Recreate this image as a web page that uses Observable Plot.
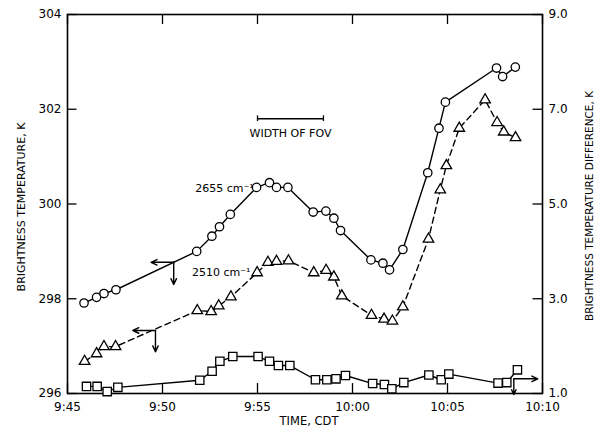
<!DOCTYPE html>
<html><head><meta charset="utf-8">
<script src="https://cdn.jsdelivr.net/npm/d3@7"></script>
<script src="https://cdn.jsdelivr.net/npm/@observablehq/plot@0.6"></script>
<style>body{margin:0;background:#fff;}</style>
</head><body><div id="chart"></div>
<script>
// time in minutes after 9:00 CDT
const circTime = [45.87,46.53,46.92,47.55,51.8,52.6,53.0,53.57,54.95,55.63,56.0,56.6,57.93,58.6,59.02,59.37,60.97,61.6,61.95,62.65,63.96,64.55,64.89,67.58,67.9,68.57];
const circTemp = [297.91,298.03,298.11,298.19,299.0,299.32,299.52,299.78,300.35,300.45,300.35,300.35,299.83,299.85,299.7,299.44,298.82,298.75,298.61,299.04,300.66,301.6,302.15,302.87,302.69,302.89];
const triTime = [45.9,46.53,46.92,47.53,51.83,52.56,52.96,53.6,54.98,55.55,56.0,56.63,57.96,58.61,59.02,59.44,61.0,61.66,62.1,62.65,64.0,64.62,64.94,65.62,66.98,67.61,67.96,68.58];
const triTemp = [296.68,296.84,296.99,296.99,297.75,297.73,297.85,298.04,298.55,298.77,298.79,298.8,298.55,298.6,298.46,298.06,297.65,297.57,297.53,297.83,299.26,300.3,300.81,301.6,302.2,301.72,301.52,301.4];
const sqTime = [46.0,46.56,47.09,47.65,51.96,52.61,53.02,53.7,55.03,55.63,56.1,56.7,58.05,58.65,59.13,59.63,61.06,61.68,62.07,62.7,64.02,64.67,65.07,67.66,68.12,68.68];
const sqDiff = [1.15,1.15,1.04,1.13,1.28,1.47,1.68,1.78,1.78,1.68,1.59,1.59,1.29,1.29,1.31,1.38,1.21,1.19,1.10,1.23,1.39,1.29,1.41,1.22,1.23,1.50];

const xTicks = [45,50,55,60,65,70];
const xTickLabels = ["9:45","9:50","9:55","10:00","10:05","10:10"];
const leftTicks = [296,298,300,302,304];
const diffTicks = [1,3,5,7,9];
const diffTickLabels = ["1.0","3.0","5.0","7.0","9.0"];
const diffOffset = 295; // right axis value = left axis value - 295

// annotation anchors
const seriesLabels = [
  {x: 54.8, y: 300.33, text: "2655 cm\u207B\u00B9"},
  {x: 54.63, y: 298.55, text: "2510 cm\u207B\u00B9"}
];
const axisArrows = [
  {x1: 50.59, y1: 298.77, x2: 49.4, y2: 298.77},
  {x1: 50.59, y1: 298.77, x2: 50.59, y2: 298.3},
  {x1: 49.63, y1: 297.33, x2: 48.44, y2: 297.33},
  {x1: 49.63, y1: 297.33, x2: 49.63, y2: 296.88},
  {x1: 68.49, y1: 296.31, x2: 69.75, y2: 296.31},
  {x1: 68.49, y1: 296.31, x2: 68.49, y2: 295.98}
];
const fovBar = {x1: 55.0, x2: 58.47, y: 301.8, label: "WIDTH OF FOV", labelY: 301.48};

const circles = circTime.map((t,i)=>({t, v: circTemp[i]}));
const triangles = triTime.map((t,i)=>({t, v: triTemp[i]}));
const squares = sqTime.map((t,i)=>({t, v: sqDiff[i] + diffOffset}));

const font = "DejaVu Sans";
const chart = Plot.plot({
  width: 597, height: 434,
  marginLeft: 67, marginRight: 55, marginTop: 14, marginBottom: 41,
  x: {domain: [45,70]},
  y: {domain: [296,304]},
  style: {fontFamily: font, fontSize: "11px", background: "white", color: "black"},
  marks: [
    Plot.frame({stroke: "black", strokeWidth: 1.6}),
    // inward ticks
    Plot.ruleX(xTicks, {x: d=>d, y1: 296, y2: 296.21, stroke: "black", strokeWidth: 1.3}),
    Plot.ruleX(xTicks, {x: d=>d, y1: 304, y2: 303.79, stroke: "black", strokeWidth: 1.3}),
    Plot.ruleY(leftTicks, {y: d=>d, x1: 45, x2: 45.5, stroke: "black", strokeWidth: 1.3}),
    Plot.ruleY(diffTicks, {y: d=>d + diffOffset, x1: 70, x2: 69.5, stroke: "black", strokeWidth: 1.3}),
    Plot.axisX({ticks: xTicks, tickSize: 0, tickPadding: 9, tickFormat: (d,i)=>xTickLabels[xTicks.indexOf(d)], label: null, fontSize: 12}),
    Plot.axisY({ticks: leftTicks, tickSize: 0, tickPadding: 6, tickFormat: d=>String(d), label: null, fontSize: 12}),
    Plot.axisY({anchor: "right", ticks: diffTicks.map(d=>d+diffOffset), tickSize: 0, tickPadding: 6, tickFormat: d=>diffTickLabels[diffTicks.indexOf(Math.round(d-diffOffset))], label: null, fontSize: 12}),
    Plot.text(["TIME, CDT"], {frameAnchor: "bottom", dx: 4, dy: 31, fontSize: 11.5, textAnchor: "middle"}),
    Plot.text(["BRIGHTNESS TEMPERATURE, K"], {frameAnchor: "left", dx: -46, dy: 3, rotate: -90, fontSize: 11, textAnchor: "middle"}),
    Plot.text(["BRIGHTNESS TEMPERATURE DIFFERENCE, K"], {frameAnchor: "right", dx: 47, dy: 2, rotate: -90, fontSize: 10.5, textAnchor: "middle"}),
    // lines
    Plot.line(circles, {x: "t", y: "v", stroke: "black", strokeWidth: 1.4}),
    Plot.line(triangles, {x: "t", y: "v", stroke: "black", strokeWidth: 1.4, strokeDasharray: "6,4"}),
    Plot.line(squares, {x: "t", y: "v", stroke: "black", strokeWidth: 1.4}),
    Plot.dot(circles, {x: "t", y: "v", r: 4.2, symbol: "circle", fill: "white", stroke: "black", strokeWidth: 1.3}),
    Plot.dot(triangles, {x: "t", y: "v", r: 3.9, symbol: "triangle", fill: "white", stroke: "black", strokeWidth: 1.3}),
    Plot.dot(squares, {x: "t", y: "v", r: 4.7, symbol: "square", fill: "white", stroke: "black", strokeWidth: 1.3}),
    // annotations
    Plot.arrow(axisArrows, {x1: "x1", y1: "y1", x2: "x2", y2: "y2", stroke: "black", strokeWidth: 1.4, headLength: 7, headAngle: 50}),
    Plot.text(seriesLabels, {x: "x", y: "y", text: "text", textAnchor: "end", fontSize: 11}),
    Plot.ruleY([fovBar], {y: "y", x1: "x1", x2: "x2", stroke: "black", strokeWidth: 1.3}),
    Plot.ruleX([fovBar.x1, fovBar.x2], {x: d=>d, y1: fovBar.y - 0.06, y2: fovBar.y + 0.06, stroke: "black", strokeWidth: 1.3}),
    Plot.text([fovBar], {x: d=>(d.x1+d.x2)/2, y: "labelY", text: "label", fontSize: 11})
  ]
});
document.getElementById("chart").appendChild(chart);
</script>
</body></html>
